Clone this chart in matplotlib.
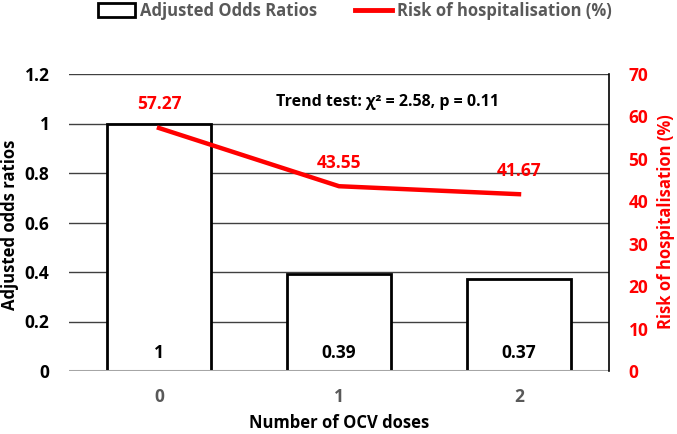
import matplotlib
matplotlib.use("Agg")
import matplotlib.pyplot as plt
from matplotlib.patches import Patch
from matplotlib.lines import Line2D

doses = ["0", "1", "2"]
odds_ratios = [1, 0.39, 0.37]
odds_labels = ["1", "0.39", "0.37"]
risk = [57.27, 43.55, 41.67]
risk_labels = ["57.27", "43.55", "41.67"]
trend_text = "Trend test: χ² = 2.58, p = 0.11"

fam = ['Open Sans', 'DejaVu Sans']
plt.rcParams['font.family'] = fam
plt.rcParams['font.weight'] = 'bold'

W, H = 677, 434
fig = plt.figure(figsize=(W / 100, H / 100), dpi=100)
L, R, T, B = 69, 609, 74, 371
ax = fig.add_axes([L / W, 1 - B / H, (R - L) / W, (B - T) / H])
x = list(range(len(doses)))

ax.set_axisbelow(True)
ax.yaxis.grid(True, color='#404040', lw=1)
ax.bar(x, odds_ratios, width=0.575, facecolor='white', edgecolor='black', lw=2, zorder=2)
ax.axhline(0, color='#a6a6a6', lw=2.2, zorder=3)
for xi, v, lab in zip(x, odds_ratios, odds_labels):
    ax.text(xi, 0.073, lab, ha='center', va='center', fontsize=12.5, fontweight='bold', color='black', zorder=5)

ax.set_xlim(-0.5, 2.5)
ax.set_ylim(0, 1.2)
ax.set_yticks([0, 0.2, 0.4, 0.6, 0.8, 1.0, 1.2])
ax.set_yticklabels(["0", "0.2", "0.4", "0.6", "0.8", "1", "1.2"])
ax.set_xticks(x)
ax.set_xticklabels(doses)
ax.tick_params(axis='y', length=0, labelsize=12.5, pad=14, labelcolor='black')
ax.tick_params(axis='x', length=0, labelsize=12.5, pad=12, labelcolor='#595959')
for lab in ax.get_xticklabels() + ax.get_yticklabels():
    lab.set_fontweight('bold')
for s in ['top', 'left', 'bottom', 'right']:
    ax.spines[s].set_visible(False)
ax.set_xlabel("Number of OCV doses", fontsize=12, fontweight='bold', labelpad=6)
fig.text(10 / W, 1 - 225 / H, "Adjusted odds ratios", rotation=90, ha='center', va='center',
         fontsize=12, fontweight='bold', color='black')

ax.text(1.27, 1.087, trend_text, ha='center', va='center', fontsize=11.5, fontweight='bold', color='black')

ax2 = ax.twinx()
ax2.plot(x, risk, color='#ff0000', lw=3.2, zorder=4)
for xi, v, lab in zip(x, risk, risk_labels):
    ax2.annotate(lab, (xi, v), xytext=(0, 17), textcoords='offset points', ha='center', va='center',
                 fontsize=12.5, fontweight='bold', color='#ff0000')
ax2.set_ylim(0, 70)
ax2.set_yticks(range(0, 71, 10))
ax2.tick_params(axis='y', length=0, labelsize=12.5, pad=14, labelcolor='#ff0000')
for lab in ax2.get_yticklabels():
    lab.set_fontweight('bold')
for s in ['top', 'left', 'bottom']:
    ax2.spines[s].set_visible(False)
ax2.spines['right'].set_color('black')
ax2.spines['right'].set_linewidth(1.2)
fig.text(666 / W, 1 - 222 / H, "Risk of hospitalisation (%)", rotation=90, ha='center', va='center',
         fontsize=12, fontweight='bold', color='#ff0000')

handles = [Patch(facecolor='white', edgecolor='black', lw=2),
           Line2D([0], [0], color='#ff0000', lw=3.5)]
fig.legend(handles, ["Adjusted Odds Ratios", "Risk of hospitalisation (%)"], loc='center',
           bbox_to_anchor=(0.524, 0.975), ncol=2, frameon=False,
           labelcolor='#595959', handlelength=2.2, handleheight=0.9, handletextpad=0.3, columnspacing=2.3,
           prop={'family': fam, 'weight': 'bold', 'size': 12})

fig.savefig("out.png", dpi=100)
